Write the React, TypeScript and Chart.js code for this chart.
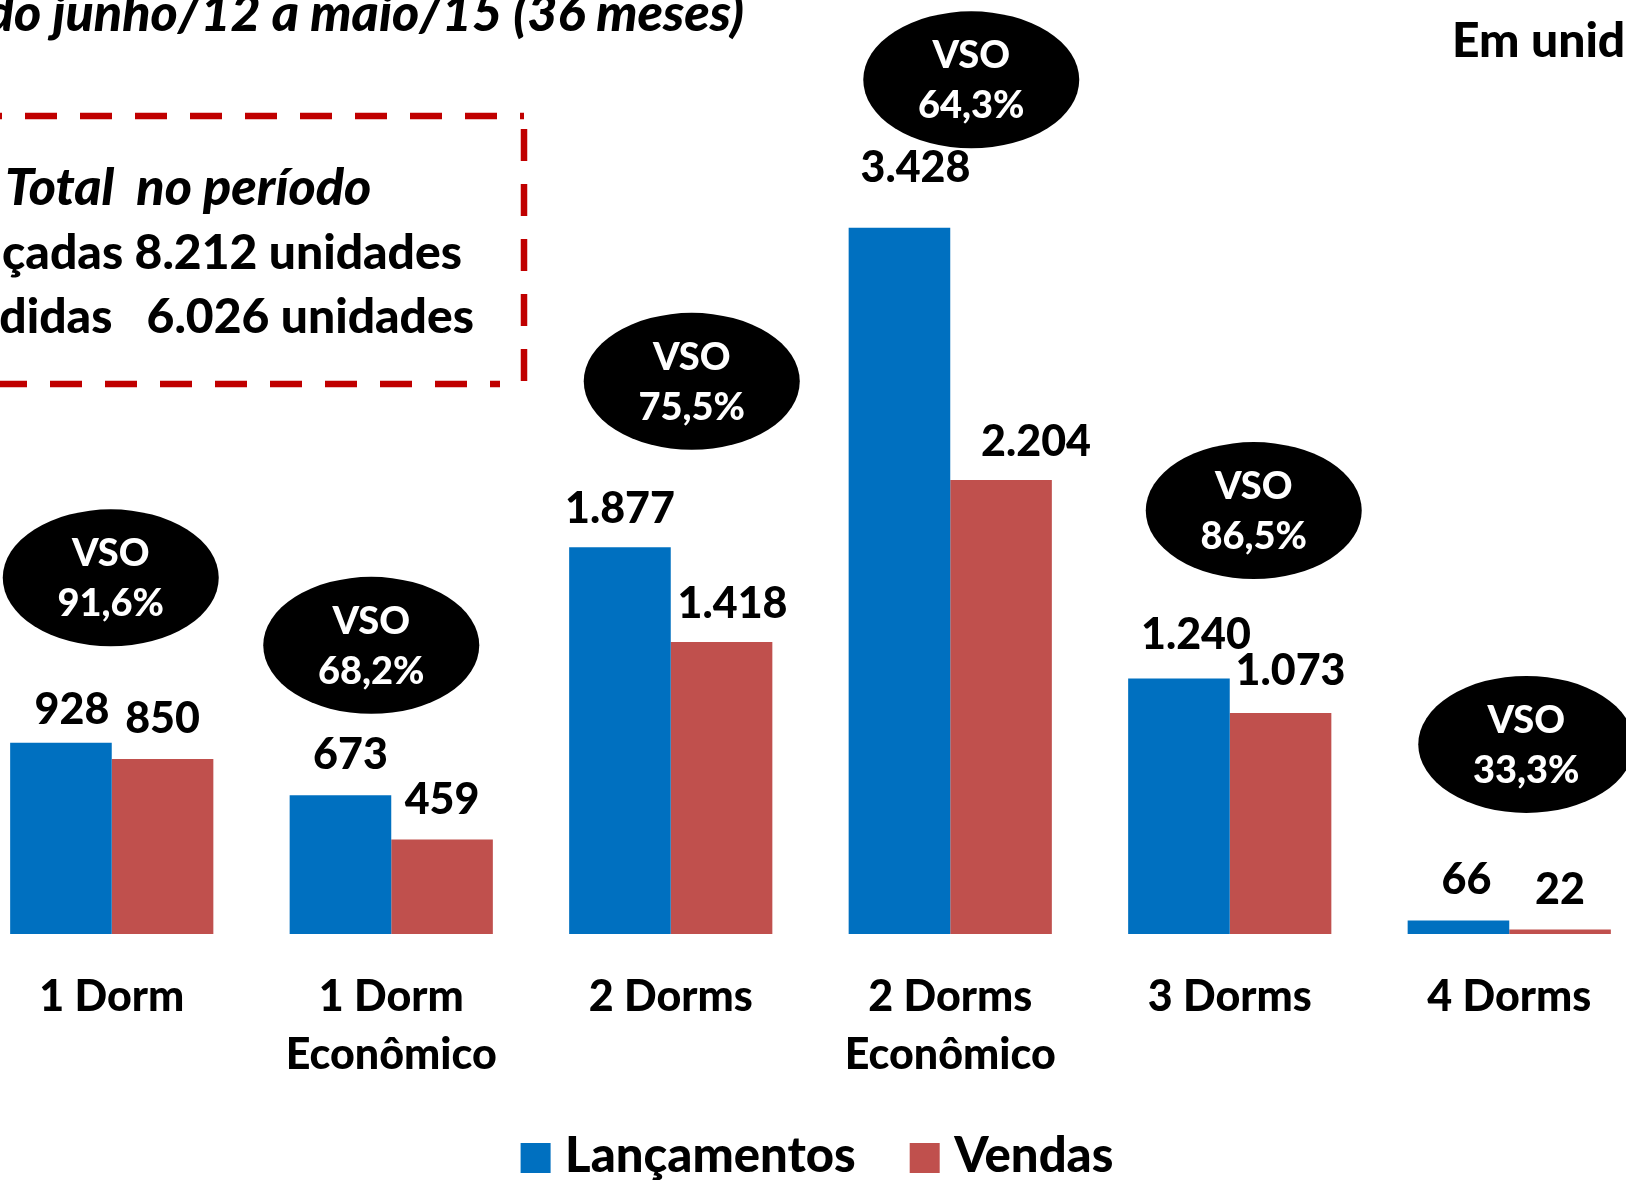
import React, { useEffect, useRef } from "react";
import { Chart, registerables } from "chart.js";

Chart.register(...registerables);

// ---------- data ----------
const categories: string[][] = [
  ["1 Dorm"],
  ["1 Dorm", "Econômico"],
  ["2 Dorms"],
  ["2 Dorms", "Econômico"],
  ["3 Dorms"],
  ["4 Dorms"],
];
const seriesNames = ["Lançamentos", "Vendas"];
const lancamentos = [928, 673, 1877, 3428, 1240, 66];
const vendas = [850, 459, 1418, 2204, 1073, 22];
const titleText = "Período junho/12 a maio/15 (36 meses)";
const unitText = "Em unidades";
const boxTitle = "Total  no período";
const boxLine1Label = "Lançadas";
const boxLine2Label = "Vendidas";

// ---------- style / layout ----------
const COLORS = ["#0070C0", "#C0504D"];
const OX = 28; // canvas is shifted left by this many px
const CW = 1677;
const CH = 1180;
const FONT = "Lato";
const W = "900";
// label offsets [dx, gap above bar top]
const labelOffsets = [
  [[11, 19], [10, 26], [0, 24], [16, 46], [17, 30], [8, 26]],
  [[0, 26], [0, 25], [11, 24], [35, 24], [10, 28], [0, 25]],
];
// VSO bubble offsets [dx from group centre, dy above Lançamentos bar top]
const vsoOffsets = [[-1, 165], [-20, 150], [21, 166], [21, 148], [24, 168], [17, 176]];

const fmt = (n: number) => String(n).replace(/\B(?=(\d{3})+(?!\d))/g, ".");
const pct = (v: number, l: number) => ((v / l) * 100).toFixed(1).replace(".", ",") + "%";
const sum = (a: number[]) => a.reduce((s, x) => s + x, 0);

const overlayPlugin = {
  id: "overlay",
  afterDatasetsDraw(chart: any) {
    const ctx = chart.ctx as CanvasRenderingContext2D;
    ctx.save();
    // value labels
    ctx.fillStyle = "#000";
    ctx.font = `${W} 43px ${FONT}`;
    ctx.textAlign = "center";
    ctx.textBaseline = "alphabetic";
    chart.data.datasets.forEach((ds: any, di: number) => {
      const meta = chart.getDatasetMeta(di);
      meta.data.forEach((el: any, i: number) => {
        const [dx, gap] = labelOffsets[di][i];
        ctx.fillText(fmt(ds.data[i]), el.x + dx, el.y - gap);
      });
    });
    // VSO bubbles
    const m0 = chart.getDatasetMeta(0);
    const l = chart.data.datasets[0].data;
    const v = chart.data.datasets[1].data;
    l.forEach((_: number, i: number) => {
      const cx = chart.scales.x.getPixelForValue(i) + vsoOffsets[i][0];
      const cy = m0.data[i].y - vsoOffsets[i][1];
      ctx.fillStyle = "#000";
      ctx.beginPath();
      ctx.ellipse(cx, cy, 108, 68.5, 0, 0, Math.PI * 2);
      ctx.fill();
      ctx.fillStyle = "#fff";
      ctx.font = `${W} 38px ${FONT}`;
      ctx.textBaseline = "middle";
      ctx.fillText("VSO", cx, cy - 24);
      ctx.fillText(pct(v[i], l[i]), cx, cy + 26);
    });
    ctx.restore();
  },
  afterDraw(chart: any) {
    const ctx = chart.ctx as CanvasRenderingContext2D;
    ctx.save();
    ctx.fillStyle = "#000";
    ctx.textBaseline = "alphabetic";
    // title
    ctx.font = `italic ${W} 52px ${FONT}`;
    ctx.textAlign = "right";
    ctx.fillText(titleText, 744 + OX, 31);
    // units
    ctx.font = `${W} 48px ${FONT}`;
    ctx.textAlign = "left";
    ctx.fillText(unitText, 1452 + OX, 57);
    // dashed box
    ctx.strokeStyle = "#C00000";
    ctx.lineWidth = 6.5;
    ctx.setLineDash([32, 23]);
    ctx.beginPath();
    ctx.moveTo(-30 + OX, 116);
    ctx.lineTo(524 + OX, 116);
    ctx.stroke();
    ctx.beginPath();
    ctx.moveTo(524 + OX, 129);
    ctx.lineTo(524 + OX, 386);
    ctx.stroke();
    ctx.beginPath();
    ctx.moveTo(-5 + OX, 384);
    ctx.lineTo(500 + OX, 384);
    ctx.stroke();
    ctx.setLineDash([]);
    // box text
    const totL = sum(chart.data.datasets[0].data);
    const totV = sum(chart.data.datasets[1].data);
    ctx.font = `italic ${W} 52px ${FONT}`;
    ctx.textAlign = "left";
    ctx.fillText(boxTitle, 5 + OX, 205);
    ctx.font = `${W} 48px ${FONT}`;
    ctx.textAlign = "right";
    ctx.fillText(`${boxLine1Label} ${fmt(totL)} unidades`, 462 + OX, 269);
    ctx.fillText(`${boxLine2Label}   ${fmt(totV)} unidades`, 474 + OX, 333);
    // legend
    ctx.font = `${W} 49px ${FONT}`;
    ctx.textAlign = "left";
    let x = 520.6 + OX;
    chart.data.datasets.forEach((ds: any) => {
      ctx.fillStyle = ds.backgroundColor;
      ctx.fillRect(x, 1143, 30, 30);
      ctx.fillStyle = "#000";
      const tx = x + 44.5;
      ctx.fillText(ds.label, tx, 1172);
      x = tx + ctx.measureText(ds.label).width + 54;
    });
    ctx.restore();
  },
};

export default function App() {
  const ref = useRef<HTMLCanvasElement | null>(null);
  useEffect(() => {
    if (!ref.current) return;
    const chart = new Chart(ref.current, {
      type: "bar",
      data: {
        labels: categories,
        datasets: [
          { label: seriesNames[0], data: lancamentos, backgroundColor: COLORS[0] },
          { label: seriesNames[1], data: vendas, backgroundColor: COLORS[1] },
        ],
      },
      options: {
        responsive: false,
        animation: false,
        events: [],
        layout: { padding: { top: 110, bottom: 62, left: 0, right: 0 } },
        datasets: { bar: { categoryPercentage: 0.727, barPercentage: 1 } },
        plugins: {
          legend: { display: false },
          tooltip: { enabled: false },
          title: { display: false },
        },
        scales: {
          x: {
            grid: { display: false, drawTicks: false },
            border: { display: false },
            ticks: {
              color: "#000",
              padding: 34,
              maxRotation: 0,
              autoSkip: false,
              font: { family: FONT, size: 43, weight: W, lineHeight: 58 / 43 },
            },
          },
          y: { display: false, min: 0, max: 4000 },
        },
      } as any,
      plugins: [overlayPlugin],
    });
    return () => chart.destroy();
  }, []);
  return (
    <div
      style={{
        position: "fixed",
        left: 0,
        top: 0,
        width: 1626,
        height: 1180,
        overflow: "hidden",
        background: "#fff",
      }}
    >
      <canvas
        ref={ref}
        width={CW}
        height={CH}
        style={{ position: "absolute", left: -OX, top: 0 }}
      />
    </div>
  );
}
